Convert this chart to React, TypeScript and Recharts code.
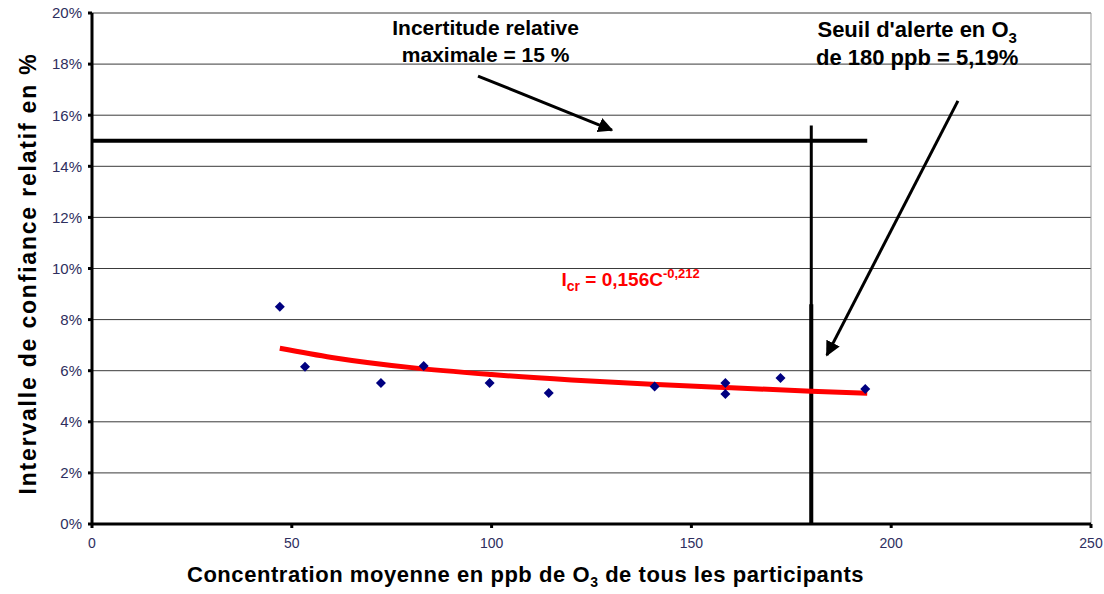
import React from "react";
import {
  ComposedChart,
  Scatter,
  Line,
  XAxis,
  YAxis,
  CartesianGrid,
  ReferenceLine,
  ReferenceDot,
} from "recharts";

// Measured points: mean O3 concentration (ppb) vs relative confidence interval (%)
const concentrations = [47, 53.3, 72.3, 83, 99.5, 114.3, 140.8, 158.5, 158.5, 172.3, 193.5];
const intervals = [8.5, 6.15, 5.52, 6.18, 5.52, 5.13, 5.38, 5.52, 5.09, 5.71, 5.28];

// Power trend line
const trendX = [47, 60, 80, 100, 120, 140, 160, 180, 194];
const trendY = [6.88, 6.52, 6.12, 5.85, 5.64, 5.47, 5.33, 5.2, 5.12];

const xTicks = [0, 50, 100, 150, 200, 250];
const yTicks = [0, 2, 4, 6, 8, 10, 12, 14, 16, 18, 20];

// Reference levels
const maxUncertainty = 15;
const maxUncertaintyEnd = 194;
const alertThreshold = 180;
const alertLineTop = 15.6;

const points = concentrations.map((x, i) => ({ x, y: intervals[i] }));
const trend = trendX.map((x, i) => ({ x, y: trendY[i] }));

const tickColor = "#2e2e5e";
const font = "'Liberation Sans', Arial, sans-serif";

const incertLabel = (props: any) => {
  const vb = props.viewBox || {};
  const cx = vb.x ?? 0;
  const cy = vb.y ?? 0;
  return (
    <text x={cx} y={cy} textAnchor="middle" fontFamily={font} fontWeight="bold" fontSize={21} fill="#000">
      <tspan x={cx}>Incertitude relative</tspan>
      <tspan x={cx} dy={27}>maximale = 15 %</tspan>
    </text>
  );
};

const seuilLabel = (props: any) => {
  const vb = props.viewBox || {};
  const cx = vb.x ?? 0;
  const cy = vb.y ?? 0;
  return (
    <text x={cx} y={cy} textAnchor="middle" fontFamily={font} fontWeight="bold" fontSize={22} fill="#000">
      <tspan x={cx}>Seuil d'alerte en O</tspan>
      <tspan dy={6} fontSize={15}>3</tspan>
      <tspan x={cx} dy={22}>de 180 ppb = 5,19%</tspan>
    </text>
  );
};

const eqLabel = (props: any) => {
  const vb = props.viewBox || {};
  const cx = vb.x ?? 0;
  const cy = vb.y ?? 0;
  return (
    <text x={cx} y={cy} textAnchor="start" fontFamily={font} fontWeight="bold" fontSize={19} fill="#ff0000">
      <tspan>I</tspan>
      <tspan dy={5} fontSize={14}>cr</tspan>
      <tspan dy={-5}> = 0,156C</tspan>
      <tspan dy={-8} fontSize={13}>-0,212</tspan>
    </text>
  );
};

const yAxisLabel = (props: any) => {
  const vb = props.viewBox || {};
  const x = (vb.x ?? 0) - 4;
  const y = (vb.y ?? 0) + (vb.height ?? 0) / 2 + 5;
  return (
    <text
      x={x}
      y={y}
      transform={`rotate(-90, ${x}, ${y})`}
      textAnchor="middle"
      dominantBaseline="central"
      fontFamily={font}
      fontWeight="bold"
      fontSize={23}
      letterSpacing={1.8}
      fill="#000"
    >
      Intervalle de confiance relatif en %
    </text>
  );
};

const xAxisLabel = (props: any) => {
  const vb = props.viewBox || {};
  const x = (vb.x ?? 0) + (vb.width ?? 0) / 2 - 66;
  const y = (vb.y ?? 0) + 58;
  return (
    <text x={x} y={y} textAnchor="middle" fontFamily={font} fontWeight="bold" fontSize={22} letterSpacing={0.55} fill="#000">
      <tspan>Concentration moyenne en ppb de O</tspan>
      <tspan dy={5} fontSize={14}>3</tspan>
      <tspan dy={-5}> de tous les participants</tspan>
    </text>
  );
};

const diamond = (props: any) => {
  const { cx, cy } = props;
  const s = 5;
  return <polygon points={`${cx},${cy - s} ${cx + s},${cy} ${cx},${cy + s} ${cx - s},${cy}`} fill="#000080" />;
};

const noDot = () => <g />;

export default function App() {
  return (
    <div style={{ position: "absolute", left: 0, top: 0, width: 1104, height: 594, background: "#fff" }}>
      <svg width={0} height={0} style={{ position: "absolute" }}>
        <defs>
          <marker id="arrowHead" viewBox="0 0 10 10" refX="9" refY="5" markerWidth="5" markerHeight="5" orient="auto">
            <path d="M0,0 L10,5 L0,10 Z" fill="#000" />
          </marker>
        </defs>
      </svg>
      <ComposedChart
        width={1104}
        height={594}
        margin={{ top: 13, right: 13, bottom: 40, left: 32 }}
      >
        <CartesianGrid horizontal vertical={false} stroke="#3a3a3a" strokeWidth={1} />
        <XAxis
          type="number"
          dataKey="x"
          domain={[0, 250]}
          ticks={xTicks}
          allowDataOverflow
          axisLine={{ stroke: "#000", strokeWidth: 3 }}
          tickLine={{ stroke: "#000", strokeWidth: 3 }}
          tickSize={4}
          height={30}
          tick={{ fill: tickColor, fontSize: 14, fontFamily: font, dy: 8 }}
          label={xAxisLabel}
        />
        <YAxis
          type="number"
          dataKey="y"
          domain={[0, 20]}
          ticks={yTicks}
          allowDataOverflow
          width={60}
          axisLine={{ stroke: "#000", strokeWidth: 3 }}
          tickLine={{ stroke: "#000", strokeWidth: 3 }}
          tickSize={4}
          tickFormatter={(v: number) => `${v}%`}
          tick={{ fill: tickColor, fontSize: 15, fontFamily: font, dx: -4 }}
          label={yAxisLabel}
        />
        <ReferenceLine x={250} stroke="#999" strokeWidth={1} />
        <ReferenceLine
          segment={[
            { x: 0, y: maxUncertainty },
            { x: maxUncertaintyEnd, y: maxUncertainty },
          ]}
          stroke="#000"
          strokeWidth={4}
        />
        <ReferenceLine
          segment={[
            { x: alertThreshold, y: 0 },
            { x: alertThreshold, y: alertLineTop },
          ]}
          stroke="#000"
          strokeWidth={3}
        />
        <ReferenceLine
          segment={[
            { x: alertThreshold, y: 0 },
            { x: alertThreshold, y: 8.6 },
          ]}
          stroke="#000"
          strokeWidth={4}
        />
        <ReferenceLine
          segment={[
            { x: 96.6, y: 17.53 },
            { x: 130.1, y: 15.42 },
          ]}
          stroke="#000"
          strokeWidth={3}
          markerEnd="url(#arrowHead)"
        />
        <ReferenceLine
          segment={[
            { x: 216.7, y: 16.56 },
            { x: 183.9, y: 6.61 },
          ]}
          stroke="#000"
          strokeWidth={3}
          markerEnd="url(#arrowHead)"
        />
        <Line
          data={trend}
          dataKey="y"
          type="monotone"
          stroke="#ff0000"
          strokeWidth={5}
          dot={false}
          activeDot={false}
          isAnimationActive={false}
        />
        <Scatter data={points} dataKey="y" fill="#000080" shape={diamond} isAnimationActive={false} />
        <ReferenceDot x={98.5} y={19.15} r={0} fill="none" stroke="none" shape={noDot} label={incertLabel} />
        <ReferenceDot x={206.5} y={19.05} r={0} fill="none" stroke="none" shape={noDot} label={seuilLabel} />
        <ReferenceDot x={117.5} y={9.3} r={0} fill="none" stroke="none" shape={noDot} label={eqLabel} />
      </ComposedChart>
    </div>
  );
}
